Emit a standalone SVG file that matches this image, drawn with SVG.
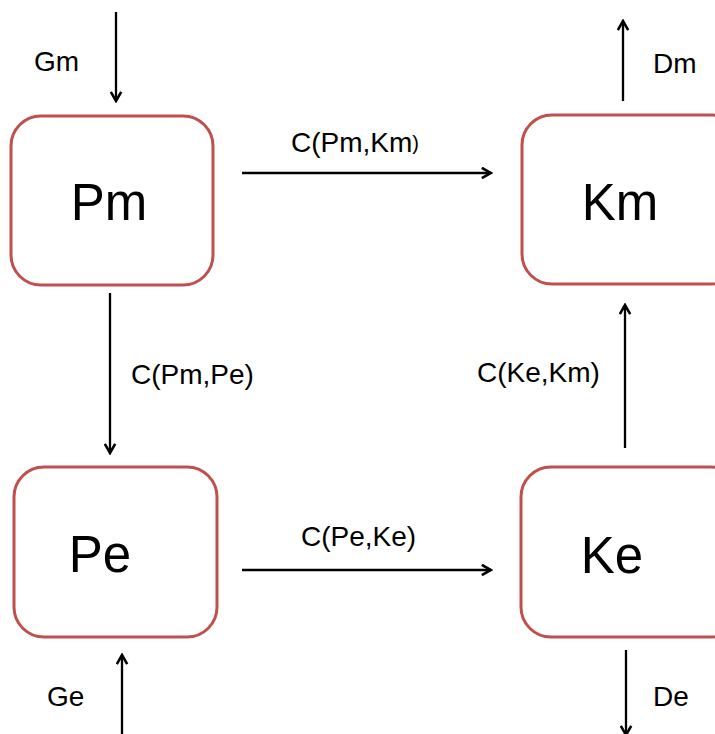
<svg xmlns="http://www.w3.org/2000/svg" width="715" height="734" viewBox="0 0 715 734">
  <defs>
    <marker id="arrow" viewBox="0 0 12 12" refX="10.5" refY="6" markerWidth="13" markerHeight="13" markerUnits="userSpaceOnUse" orient="auto">
      <path d="M2,1.2 L10.5,6 L2,10.8" fill="none" stroke="#000" stroke-width="2.4" stroke-linejoin="miter"/>
    </marker>
    <style>
      .box { fill: #fff; stroke: #c0504d; stroke-width: 3; }
      .big { font-family: "Liberation Sans", Arial, sans-serif; font-size: 51px; fill: #000; text-anchor: middle; }
      .lbl { font-family: "Liberation Sans", Arial, sans-serif; font-size: 28px; fill: #000; }
      .conn line { stroke: #000; stroke-width: 2.3; marker-end: url(#arrow); }
    </style>
  </defs>
  <rect width="715" height="734" fill="#fff"/>

  <g id="node-Pm">
    <rect class="box" x="11" y="116" width="202" height="169" rx="30"/>
    <text class="big" x="109" y="220">Pm</text>
  </g>
  <g id="node-Km">
    <rect class="box" x="522" y="115" width="220" height="169" rx="30"/>
    <text class="big" x="620" y="220">Km</text>
  </g>
  <g id="node-Pe">
    <rect class="box" x="14" y="467" width="203" height="170" rx="30"/>
    <text class="big" x="100" y="572">Pe</text>
  </g>
  <g id="node-Ke">
    <rect class="box" x="521" y="467" width="220" height="170" rx="30"/>
    <text class="big" x="612" y="573">Ke</text>
  </g>

  <g id="connectors" class="conn">
    <line x1="116" y1="12" x2="116" y2="101"/>
    <line x1="623" y1="101" x2="623" y2="21"/>
    <line x1="242" y1="173" x2="491" y2="173"/>
    <line x1="110" y1="293" x2="110" y2="453"/>
    <line x1="625" y1="448" x2="625" y2="305"/>
    <line x1="242" y1="570" x2="491" y2="570"/>
    <line x1="122" y1="734" x2="122" y2="655"/>
    <line x1="626" y1="650" x2="626" y2="735"/>
  </g>

  <g id="labels">
    <text class="lbl" x="34" y="71">Gm</text>
    <text class="lbl" x="653" y="73">Dm</text>
    <text class="lbl" x="291" y="152">C(Pm,Km<tspan font-size="20px" dy="-2">)</tspan></text>
    <text class="lbl" x="131" y="384">C(Pm,Pe)</text>
    <text class="lbl" x="477" y="382">C(Ke,Km)</text>
    <text class="lbl" x="301" y="546">C(Pe,Ke)</text>
    <text class="lbl" x="47" y="706">Ge</text>
    <text class="lbl" x="653" y="706">De</text>
  </g>
</svg>
